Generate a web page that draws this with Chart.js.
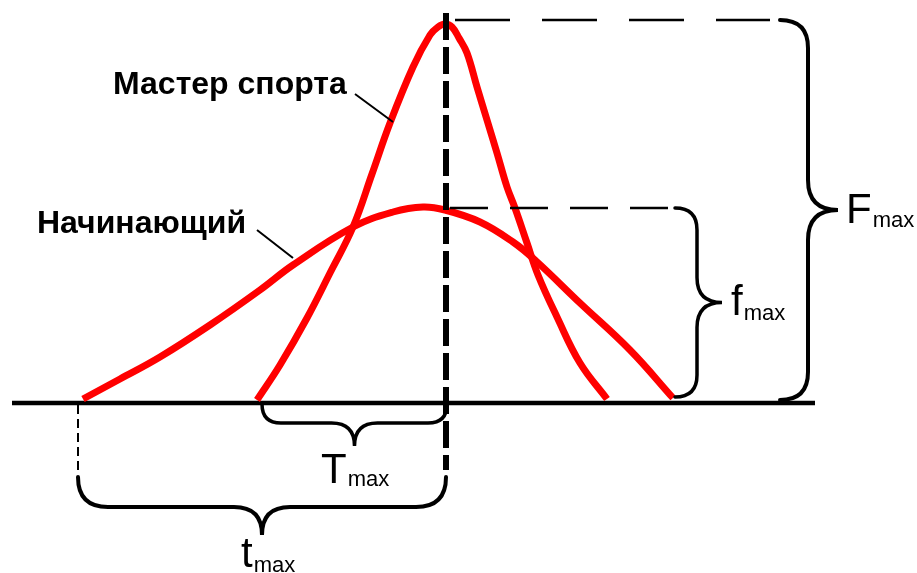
<!DOCTYPE html>
<html>
<head>
<meta charset="utf-8">
<script src="https://cdn.jsdelivr.net/npm/chart.js@4/dist/chart.umd.min.js"></script>
<style>
  html, body { margin: 0; padding: 0; background: #fff; }
  #wrap { width: 917px; height: 573px; }
</style>
</head>
<body>
<div id="wrap"><canvas id="forceChart" width="917" height="573"></canvas></div>
<script>
// force-time curves (time on x, force on y, baseline at 0)
const masterTime  = [257, 280, 307, 330, 353, 372, 390, 413, 430, 438, 445, 452, 459, 467, 477, 487, 497, 507, 515, 527, 538, 557, 580, 607];
const masterForce = [3, 38, 85, 130, 176, 229, 280, 336, 368, 376, 379, 376, 365, 350, 316, 283, 250, 216, 195, 160, 128, 86, 40, 4];
const beginnerTime  = [83, 120, 160, 210, 260, 293, 353, 393, 423, 445, 480, 513, 535, 580, 630, 673];
const beginnerForce = [4, 24, 46, 78, 113, 138, 176, 191, 196, 193, 181, 161, 143, 100, 53, 5];

// reference levels
const peakTime = 446;
const masterStart = 258;
const beginnerStart = 80;
const FmaxLevel = 383;
const fmaxLevel = 195;
const baseRange = [12, 815];
const verticalRange = [390, -67];

const labels = ['Мастер спорта', 'Начинающий'];

const px = (chart, x, y) => [chart.scales.x.getPixelForValue(x), chart.scales.y.getPixelForValue(y)];

function brace(ctx, a, b, r, d, side) {
    const L = Math.hypot(b[0] - a[0], b[1] - a[1]);
    const ux = (b[0] - a[0]) / L, uy = (b[1] - a[1]) / L;
    const vx = uy * side, vy = -ux * side;
    const P = (u, v) => [a[0] + ux * u + vx * v, a[1] + uy * u + vy * v];
    const t = d - r;
    ctx.beginPath();
    ctx.moveTo(...P(0, 0));
    ctx.quadraticCurveTo(...P(0, r), ...P(r, r));
    ctx.lineTo(...P(L / 2 - t, r));
    ctx.quadraticCurveTo(...P(L / 2, r), ...P(L / 2, d));
    ctx.quadraticCurveTo(...P(L / 2, r), ...P(L / 2 + t, r));
    ctx.lineTo(...P(L - r, r));
    ctx.quadraticCurveTo(...P(L, r), ...P(L, 0));
    ctx.stroke();
}

function subLabel(ctx, main, sub, x, y, subDy) {
    ctx.font = '42px "Liberation Sans", Arial, sans-serif';
    ctx.fillText(main, x, y);
    const w = ctx.measureText(main).width;
    ctx.font = '22px "Liberation Sans", Arial, sans-serif';
    ctx.fillText(sub, x + w + 1, y + subDy);
}

const decorPlugin = {
    id: 'decor',
    afterDraw(chart) {
        const ctx = chart.ctx;
        ctx.save();
        ctx.strokeStyle = '#000';
        ctx.fillStyle = '#000';
        ctx.lineCap = 'round';

        // braces
        ctx.lineWidth = 4;
        brace(ctx, px(chart, 780, FmaxLevel), px(chart, 780, 3), 28, 58, 1);
        ctx.lineWidth = 3.5;
        brace(ctx, px(chart, 675, fmaxLevel), px(chart, 675, 6), 22, 47, 1);
        ctx.lineWidth = 3.5;
        brace(ctx, px(chart, masterStart + 4, -1), px(chart, peakTime + 1, -1), 19, 42, -1);
        ctx.lineWidth = 4;
        brace(ctx, px(chart, beginnerStart - 2, -74), px(chart, peakTime, -74), 30, 58, -1);

        // leader lines
        ctx.lineWidth = 2;
        ctx.lineCap = 'butt';
        ctx.beginPath();
        ctx.moveTo(...px(chart, 355, 309));
        ctx.lineTo(...px(chart, 393, 281));
        ctx.moveTo(...px(chart, 257, 173));
        ctx.lineTo(...px(chart, 293, 145));
        ctx.stroke();

        // curve labels
        ctx.textBaseline = 'alphabetic';
        ctx.font = 'bold 32px "Liberation Sans", Arial, sans-serif';
        ctx.fillText(labels[0], ...px(chart, 113, 309));
        ctx.fillText(labels[1], ...px(chart, 37, 170));

        // max labels
        subLabel(ctx, 'F', 'max', ...px(chart, 846, 180), 4);
        subLabel(ctx, 'f', 'max', ...px(chart, 731, 88), 5);
        subLabel(ctx, 'T', 'max', ...px(chart, 321, -80), 3);
        subLabel(ctx, 't', 'max', ...px(chart, 241, -164), 5);
        ctx.restore();
    }
};

const line = (xs, ys) => xs.map((x, i) => ({ x: x, y: ys[i] }));

new Chart(document.getElementById('forceChart'), {
    type: 'scatter',
    data: {
        datasets: [
            {
                label: 'baseline',
                data: line(baseRange, [0, 0]),
                showLine: true, borderColor: '#000', borderWidth: 4.5, pointRadius: 0, order: 3
            },
            {
                label: labels[0],
                data: line(masterTime, masterForce),
                showLine: true, borderColor: '#ff0000', borderWidth: 7, pointRadius: 0,
                tension: 0.4, order: 2
            },
            {
                label: labels[1],
                data: line(beginnerTime, beginnerForce),
                showLine: true, borderColor: '#ff0000', borderWidth: 7, pointRadius: 0,
                tension: 0.4, order: 2
            },
            {
                label: 'peak',
                data: line([peakTime, peakTime], verticalRange),
                showLine: true, borderColor: '#000', borderWidth: 6, pointRadius: 0,
                borderDash: [27, 7], order: 1
            },
            {
                label: 'Fmax level',
                data: line([peakTime, 770], [FmaxLevel, FmaxLevel]),
                showLine: true, borderColor: '#000', borderWidth: 2.5, pointRadius: 0,
                borderDash: [55, 32], borderDashOffset: -9, order: 1
            },
            {
                label: 'fmax level',
                data: line([peakTime, 668], [fmaxLevel, fmaxLevel]),
                showLine: true, borderColor: '#000', borderWidth: 2.5, pointRadius: 0,
                borderDash: [38, 22], borderDashOffset: -4, order: 1
            },
            {
                label: 'start',
                data: line([beginnerStart - 2, beginnerStart - 2], [-2, -67]),
                showLine: true, borderColor: '#000', borderWidth: 2, pointRadius: 0,
                borderDash: [9, 5], order: 1
            }
        ]
    },
    options: {
        responsive: false,
        animation: false,
        clip: false,
        layout: { padding: 0 },
        plugins: {
            legend: { display: false },
            tooltip: { enabled: false }
        },
        scales: {
            x: { type: 'linear', min: 0, max: 917, display: false },
            y: { type: 'linear', min: -170, max: 403, display: false }
        }
    },
    plugins: [decorPlugin]
});
</script>
</body>
</html>
